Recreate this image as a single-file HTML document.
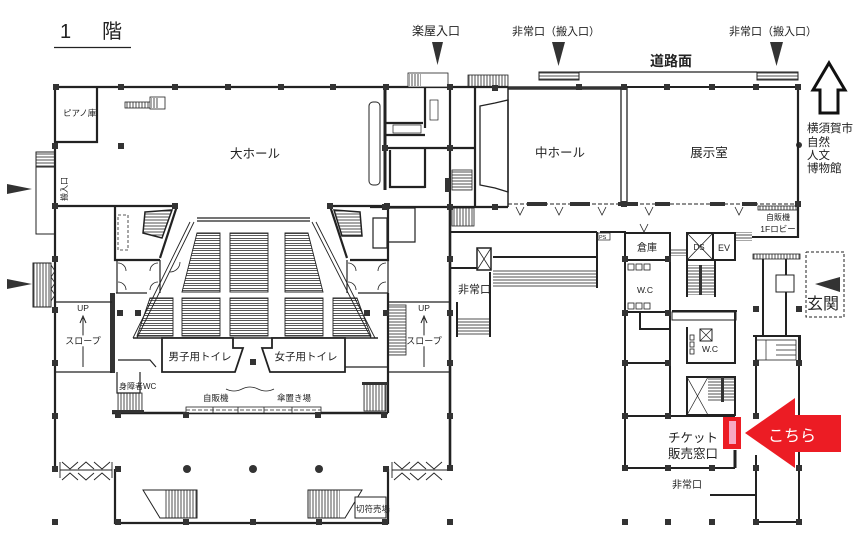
<!DOCTYPE html>
<html><head><meta charset="utf-8">
<style>
html,body{margin:0;padding:0;background:#fff}
svg{display:block}
text{font-family:"Liberation Sans","Noto Sans CJK JP",sans-serif;fill:#222}
</style></head>
<body>
<svg width="853" height="549" viewBox="0 0 853 549" xmlns="http://www.w3.org/2000/svg">
<defs>
<pattern id="rows" width="8" height="5" patternUnits="userSpaceOnUse"><path d="M0,0.5H8M0,3.5H8" stroke="#222" stroke-width="0.75"/></pattern>
<pattern id="hl" width="8" height="3" patternUnits="userSpaceOnUse"><path d="M0,1H8" stroke="#222" stroke-width="0.8"/></pattern>
<pattern id="vl" width="3" height="8" patternUnits="userSpaceOnUse"><path d="M1,0V8" stroke="#222" stroke-width="0.8"/></pattern>
<rect id="c" x="-3" y="-3" width="6" height="6" fill="#333"/>
</defs>
<rect width="853" height="549" fill="#fff"/>

<!-- Title -->
<text x="60" y="38" font-size="20">1</text>
<text x="102" y="38" font-size="20">階</text>
<line x1="54" y1="47.5" x2="131" y2="47.5" stroke="#222" stroke-width="1.3"/>

<!-- top labels -->
<text x="436" y="35" font-size="12" text-anchor="middle">楽屋入口</text>
<text x="556" y="35" font-size="11" text-anchor="middle">非常口（搬入口）</text>
<text x="773" y="35" font-size="11" text-anchor="middle">非常口（搬入口）</text>
<polygon points="432,42 443,42 437.5,65" fill="#333"/>
<polygon points="552,42 565,42 558.5,66" fill="#333"/>
<polygon points="770,42 783,42 776.5,66" fill="#333"/>
<text x="671" y="66" font-size="14" font-weight="bold" text-anchor="middle">道路面</text>

<!-- road -->
<line x1="579" y1="72" x2="757" y2="72" stroke="#222" stroke-width="1.2"/>
<rect x="539" y="72" width="40" height="8" fill="url(#hl)" stroke="#222" stroke-width="1"/>
<rect x="757" y="72" width="41" height="8" fill="url(#hl)" stroke="#222" stroke-width="1"/>

<!-- up arrow -->
<polygon points="829,63 845,90 838,90 838,113 820,113 820,90 813,90" fill="#fff" stroke="#111" stroke-width="3" stroke-linejoin="miter"/>

<!-- museum text -->
<text x="807" y="132" font-size="11.5">横須賀市</text>
<text x="807" y="146" font-size="11.5">自然</text>
<text x="807" y="159" font-size="11.5">人文</text>
<text x="807" y="172" font-size="11.5">博物館</text>
<circle cx="799" cy="145" r="3" fill="#333"/>

<!-- left entrance arrows -->
<polygon points="7,184 7,194 32,189" fill="#333"/>
<polygon points="7,279 7,289 32,284" fill="#333"/>
<rect x="36" y="152" width="19" height="82" fill="#fff" stroke="#222" stroke-width="1"/>
<rect x="36" y="152" width="19" height="15" fill="url(#hl)" stroke="#222" stroke-width="1"/>
<text transform="translate(67,189) rotate(-90)" font-size="8" text-anchor="middle">搬入口</text>
<rect x="33" y="263" width="18" height="44" fill="url(#vl)" stroke="#222" stroke-width="1"/>
<path d="M51,265 l4,6 l-4,6 l4,6 l-4,6 l4,6 l-4,6" fill="none" stroke="#222" stroke-width="0.8"/>

<!-- main walls -->
<g fill="none" stroke="#222" stroke-width="2.2">
<path d="M55,87H386H508"/>
<path d="M55,87V470"/>
<path d="M97,87V142H55"/>
<path d="M55,206H177"/>
<path d="M115,206V260H160"/>
<path d="M177,206L160,258"/>
<path d="M330,206H388V260H350"/>
<path d="M330,206L347,258"/>
<path d="M798,87V238"/>
<path d="M385,87V190" stroke-width="3"/>
<path d="M385,148H475"/>
<path d="M385,123H423M385,135H425"/>
<path d="M425,87V128M425,148V188M390,150V187H425"/>
<path d="M450,87V207"/>
<path d="M475,87V207"/>
<path d="M370,207H508"/>
<path d="M450,207V468" stroke-width="2.6"/>
<path d="M112,413H388" stroke-width="2.6"/>
<path d="M388,293V413"/>
<path d="M115,469V523H388V469"/>
</g>
<rect x="110" y="293" width="5" height="80" fill="#333"/>
<g fill="none" stroke="#222" stroke-width="1.2">
<path d="M116,293H147M358,293H388"/>
<path d="M118,360H150L156,367M345,367H388"/>
<path d="M117,372V393H140V372"/>
<path d="M56,302H112M56,372H112"/>
<path d="M388,302H450M388,372H450"/>
<path d="M117,260V293M160,260V293M347,260V293M388,260V293"/>
<path d="M388,208H415V242H388M373,218H387V248H373Z"/>
</g>

<!-- piano/other text -->
<text x="63" y="116" font-size="8.5">ピアノ庫</text>
<rect x="125" y="102" width="26" height="6" fill="url(#vl)" stroke="#222" stroke-width="0.8"/>
<rect x="150" y="97" width="15" height="12" fill="#fff" stroke="#222" stroke-width="0.8"/>
<rect x="151" y="98" width="7" height="10" fill="url(#vl)"/>
<text x="255" y="158" font-size="12.5" text-anchor="middle">大ホール</text>

<!-- stage rounded rect -->
<rect x="369" y="102" width="11" height="83" rx="4" fill="#fff" stroke="#222" stroke-width="1"/>

<!-- left room stairs -->
<polygon points="145,212 172,210 162,238 143,233" fill="url(#hl)" stroke="#222" stroke-width="1.5"/>
<rect x="118" y="215" width="10" height="35" fill="none" stroke="#222" stroke-width="0.8" stroke-dasharray="3,2"/>
<polygon points="334,210 360,212 362,236 342,236" fill="url(#hl)" stroke="#222" stroke-width="1.5"/>
<path d="M180,262 a10,10 0 0 1 -10,10 M118,263 a8,8 0 0 1 8,8 M118,282 a8,8 0 0 1 8,8 M158,263 a8,8 0 0 0 -8,8 M158,282 a8,8 0 0 0 -8,8 M348,263 a8,8 0 0 1 8,8 M348,282 a8,8 0 0 1 8,8 M386,263 a8,8 0 0 0 -8,8 M386,282 a8,8 0 0 0 -8,8" fill="none" stroke="#222" stroke-width="0.8"/>

<!-- seating -->
<g stroke="#222" stroke-width="0.9">
<path d="M197,218H310M197,221H310" fill="none" stroke-width="1.3"/>
<path d="M190,222L133,338M194,222L137,338M316,222L375,338M312,222L371,338" fill="none"/>
<polygon points="197,233 220,233 220,292 182,292" fill="url(#rows)"/>
<rect x="230" y="233" width="38" height="59" fill="url(#rows)"/>
<polygon points="285,233 308,233 323,292 285,292" fill="url(#rows)"/>
<polygon points="150,298 173,298 173,336 137,336" fill="url(#rows)"/>
<rect x="182" y="298" width="38" height="38" fill="url(#rows)"/>
<rect x="230" y="298" width="38" height="38" fill="url(#rows)"/>
<rect x="285" y="298" width="38" height="38" fill="url(#rows)"/>
<polygon points="333,298 357,298 371,336 333,336" fill="url(#rows)"/>
<path d="M133,338H378" fill="none" stroke-width="1.5"/>
</g>

<!-- toilets -->
<polygon points="162,338 233,338 233,348 243,348 235,372 162,372" fill="#fff" stroke="#222" stroke-width="1.8"/>
<polygon points="272,338 345,338 345,372 270,372 262,348 272,348" fill="#fff" stroke="#222" stroke-width="1.8"/>
<text x="200" y="360" font-size="10.5" text-anchor="middle">男子用トイレ</text>
<text x="306" y="360" font-size="10.5" text-anchor="middle">女子用トイレ</text>
<use href="#c" x="253" y="362"/>

<!-- lobby -->
<text x="119" y="389" font-size="8">身障者WC</text>
<rect x="118" y="393" width="24" height="18" fill="url(#vl)" stroke="#222" stroke-width="0.8"/>
<rect x="112" y="410" width="32" height="3" fill="#333"/>
<rect x="364" y="383" width="22" height="28" fill="url(#vl)" stroke="#222" stroke-width="0.8"/>
<rect x="362" y="382" width="26" height="3" fill="#333"/>
<path d="M226,389 q8,4 16,0 t16,0 t16,0" fill="none" stroke="#222" stroke-width="0.8"/>
<text x="203" y="401" font-size="8.5">自販機</text>
<text x="277" y="401" font-size="8.5">傘置き場</text>
<rect x="186" y="407" width="135" height="6" fill="#fff" stroke="#222" stroke-width="0.8"/>
<path d="M186,410H321" stroke="#222" stroke-width="0.8" stroke-dasharray="4,2"/>
<path d="M213,407V413M238,407V413M264,407V413M292,407V413" stroke="#222" stroke-width="0.8"/>

<!-- slopes -->
<text x="83" y="311" font-size="8.5" text-anchor="middle">UP</text>
<path d="M83,367V318M80,323L83,316L86,323" fill="none" stroke="#222" stroke-width="1"/>
<text x="83" y="344" font-size="9" text-anchor="middle" fill="#fff" stroke="#fff" stroke-width="4">スロープ</text>
<text x="83" y="344" font-size="9" text-anchor="middle">スロープ</text>
<text x="424" y="311" font-size="8.5" text-anchor="middle">UP</text>
<path d="M424,367V318M421,323L424,316L427,323" fill="none" stroke="#222" stroke-width="1"/>
<text x="424" y="344" font-size="9" text-anchor="middle" fill="#fff" stroke="#fff" stroke-width="4">スロープ</text>
<text x="424" y="344" font-size="9" text-anchor="middle">スロープ</text>
<rect x="388" y="305" width="18" height="50" fill="url(#hl)" stroke="#222" stroke-width="0.8"/>

<!-- lower area doors -->
<g fill="none" stroke="#222" stroke-width="0.9">
<path d="M60,470H112M60,478V462M112,478V462"/>
<path d="M62,462L70,469L78,462M78,469L86,462L94,469M94,462L102,469L110,462"/>
<path d="M62,480L70,473L78,480M78,473L86,480L94,473M94,480L102,473L110,480"/>
<path d="M392,470H448M392,478V462"/>
<path d="M394,462L402,469L410,462M410,469L418,462L426,469M426,462L434,469L442,462"/>
<path d="M394,480L402,473L410,480M410,473L418,480L426,473M426,480L434,473L442,480"/>
</g>
<circle cx="187" cy="469" r="4" fill="#333"/>
<circle cx="253" cy="469" r="4" fill="#333"/>
<circle cx="319" cy="469" r="4" fill="#333"/>
<polygon points="143,490 197,490 197,518 160,518" fill="#fff" stroke="#222" stroke-width="1"/>
<rect x="165" y="490" width="32" height="28" fill="url(#vl)"/>
<polygon points="308,490 362,490 345,518 308,518" fill="#fff" stroke="#222" stroke-width="1"/>
<rect x="308" y="490" width="32" height="28" fill="url(#vl)"/>
<rect x="355" y="497" width="31" height="21" fill="#fff" stroke="#222" stroke-width="1"/>
<text x="356" y="512" font-size="8.5">切符売場</text>

<!-- backstage details -->
<rect x="408" y="73" width="40" height="14" fill="#fff" stroke="#222" stroke-width="0.8"/>
<rect x="409" y="74" width="12" height="12" fill="url(#vl)"/>
<rect x="468" y="75" width="40" height="12" fill="url(#vl)" stroke="#222" stroke-width="0.8"/>
<polygon points="480,106 495,103 508,100 508,192 495,188 480,185" fill="#fff" stroke="#222" stroke-width="1.3"/>
<rect x="452" y="170" width="20" height="20" fill="url(#hl)" stroke="#222" stroke-width="0.8"/>
<rect x="452" y="208" width="22" height="18" fill="url(#vl)" stroke="#222" stroke-width="0.8"/>
<rect x="445" y="178" width="5" height="14" fill="#333"/>
<rect x="393" y="125" width="28" height="8" fill="none" stroke="#222" stroke-width="0.7"/>
<rect x="430" y="100" width="8" height="20" fill="none" stroke="#222" stroke-width="0.7"/>

<!-- middle hall / exhibition -->
<path d="M508,88H624" stroke="#333" stroke-width="3.5"/>
<path d="M624,87H798" stroke="#222" stroke-width="2"/>
<path d="M621,87V204M627,87V204" stroke="#222" stroke-width="1.3"/>
<path d="M508,87V207" stroke="#222" stroke-width="1.5"/>
<path d="M508,204H798" stroke="#222" stroke-width="1" stroke-dasharray="4,2"/>
<g fill="#333">
<rect x="527" y="202" width="20" height="4"/>
<rect x="570" y="202" width="20" height="4"/>
<rect x="618" y="202" width="20" height="4"/>
<rect x="655" y="202" width="15" height="4"/>
<rect x="710" y="202" width="15" height="4"/>
<rect x="742" y="202" width="15" height="4"/>
</g>
<text x="560" y="157" font-size="12.5" text-anchor="middle">中ホール</text>
<text x="709" y="157" font-size="12.5" text-anchor="middle">展示室</text>
<path d="M516,207l4,8l4,-8M555,207l4,8l4,-8M598,207l4,8l4,-8M645,207l4,8l4,-8M735,207l4,8l4,-8M640,224l4,8l4,-8" fill="none" stroke="#222" stroke-width="0.8"/>

<!-- 1F lobby -->
<rect x="758" y="206" width="40" height="4" fill="url(#vl)" stroke="#222" stroke-width="0.8"/>
<text x="778" y="220" font-size="8" text-anchor="middle">自販機</text>
<text x="778" y="232" font-size="8.5" text-anchor="middle">1Fロビー</text>

<!-- corridor & right block -->
<g fill="none" stroke="#222" stroke-width="2">
<path d="M450,232H597"/>
<path d="M597,232V288"/>
<path d="M493,257H597"/>
<path d="M450,268H478"/>
<path d="M457,302V337M490,272V337"/>
<path d="M600,232H625V469"/>
<path d="M625,233H670V260H625"/>
<path d="M670,232V416"/>
<path d="M687,233H735V260H687Z"/>
<path d="M713,233V260"/>
<path d="M687,260V297M715,260V297"/>
<path d="M625,312H670"/>
<path d="M672,311H737"/>
<path d="M687,327V363H735V311"/>
<path d="M625,363H670"/>
<path d="M625,416H735"/>
<path d="M735,377V416"/>
<path d="M687,377H735V415H687Z"/>
<path d="M625,468H735"/>
<path d="M735,450V468" stroke-width="3"/>
<path d="M752,237H798"/>
<path d="M763,259V336M786,259V336"/>
<path d="M753,336H800V363"/>
<path d="M756,336V416M756,455V522H799V336"/>
<path d="M710,495H756"/>
<path d="M640,312V329H670"/>
</g>
<rect x="477" y="248" width="14" height="22" fill="#fff" stroke="#222" stroke-width="1.5"/>
<path d="M477,248L491,270M491,248L477,270" stroke="#222" stroke-width="0.8"/>
<rect x="493" y="270" width="104" height="17" fill="url(#hl)"/>
<rect x="457" y="318" width="33" height="17" fill="url(#hl)"/>
<text x="458" y="293" font-size="11">非常口</text>
<rect x="598" y="233" width="12" height="7" fill="#fff" stroke="#222" stroke-width="0.7"/>
<text x="599" y="239" font-size="5.5">PS</text>
<text x="647" y="251" font-size="10" text-anchor="middle">倉庫</text>
<rect x="670" y="248" width="17" height="8" fill="url(#hl)"/>
<path d="M687,233L713,260M713,233L687,260" stroke="#222" stroke-width="0.8"/>
<text x="699" y="250" font-size="8" text-anchor="middle">DS</text>
<text x="724" y="251" font-size="9" text-anchor="middle">EV</text>
<rect x="736" y="232" width="16" height="9" fill="url(#hl)"/>
<rect x="687" y="265" width="28" height="30" fill="url(#hl)"/>
<rect x="699" y="265" width="3" height="30" fill="#333"/>
<rect x="672" y="312" width="64" height="8" fill="none" stroke="#222" stroke-width="1"/>
<rect x="700" y="329" width="12" height="12" fill="#fff" stroke="#222" stroke-width="1"/>
<path d="M700,329L712,341M712,329L700,341" stroke="#222" stroke-width="0.7"/>
<text x="645" y="293" font-size="8.5" text-anchor="middle">W.C</text>
<text x="710" y="352" font-size="8.5" text-anchor="middle">W.C</text>
<g fill="none" stroke="#222" stroke-width="0.8">
<rect x="628" y="264" width="6" height="6"/><rect x="636" y="264" width="6" height="6"/><rect x="644" y="264" width="6" height="6"/>
<rect x="628" y="303" width="6" height="6"/><rect x="636" y="303" width="6" height="6"/><rect x="644" y="303" width="6" height="6"/>
<rect x="690" y="335" width="4" height="5"/><rect x="690" y="342" width="4" height="5"/><rect x="690" y="349" width="4" height="5"/>
</g>
<path d="M687,377L708,415M708,377L687,415" stroke="#222" stroke-width="0.7"/>
<rect x="708" y="377" width="27" height="25" fill="url(#hl)"/>
<rect x="721" y="377" width="3" height="25" fill="#333"/>
<rect x="753" y="254" width="47" height="5" fill="url(#vl)" stroke="#222" stroke-width="0.8"/>
<rect x="776" y="275" width="18" height="17" fill="#fff" stroke="#222" stroke-width="1"/>
<rect x="756" y="340" width="40" height="20" fill="none" stroke="#222" stroke-width="0.8"/>
<path d="M766,340V360M776,345H796M776,350H796M776,355H796" stroke="#222" stroke-width="0.7"/>

<!-- 玄関 -->
<path d="M806,252H844V317H806V252" fill="none" stroke="#222" stroke-width="1" stroke-dasharray="3,2"/>
<polygon points="815,284 840,277 840,292" fill="#333"/>
<text x="807" y="309" font-size="16">玄関</text>

<!-- ticket -->
<text x="668" y="442" font-size="12.5" fill="#333">チケット</text>
<text x="668" y="458" font-size="12.5" fill="#333">販売窓口</text>
<text x="672" y="488" font-size="10">非常口</text>
<rect x="723" y="417" width="18" height="32" fill="#ec1c24"/>
<rect x="729" y="421" width="7" height="23" fill="#f7a8c2"/>

<!-- red arrow -->
<polygon points="745,433 795,398 795,415 841,415 841,452 795,452 795,468" fill="#ec1c24"/>
<text x="792" y="441" font-size="16" text-anchor="middle" style="fill:#fff">こちら</text>

<!-- columns -->
<g>
<use href="#c" x="56" y="87"/><use href="#c" x="121" y="87"/><use href="#c" x="175" y="87"/><use href="#c" x="228" y="87"/><use href="#c" x="281" y="87"/><use href="#c" x="333" y="87"/><use href="#c" x="386" y="87"/>
<use href="#c" x="450" y="87"/><use href="#c" x="495" y="88"/><use href="#c" x="579" y="87"/><use href="#c" x="624" y="87"/><use href="#c" x="667" y="87"/><use href="#c" x="712" y="87"/><use href="#c" x="756" y="87"/><use href="#c" x="798" y="87"/>
<use href="#c" x="121" y="146"/><use href="#c" x="55" y="146"/><use href="#c" x="55" y="206"/><use href="#c" x="55" y="259"/><use href="#c" x="55" y="310"/><use href="#c" x="55" y="363"/><use href="#c" x="55" y="416"/><use href="#c" x="55" y="469"/><use href="#c" x="55" y="522"/>
<use href="#c" x="385" y="148"/><use href="#c" x="450" y="148"/><use href="#c" x="385" y="207"/><use href="#c" x="450" y="207"/><use href="#c" x="495" y="207"/><use href="#c" x="624" y="204"/><use href="#c" x="798" y="204"/>
<use href="#c" x="175" y="206"/><use href="#c" x="330" y="206"/><use href="#c" x="387" y="206"/>
<use href="#c" x="120" y="313"/><use href="#c" x="138" y="313"/><use href="#c" x="367" y="313"/><use href="#c" x="386" y="313"/>
<use href="#c" x="118" y="415"/><use href="#c" x="186" y="415"/><use href="#c" x="318" y="415"/><use href="#c" x="384" y="415"/>
<use href="#c" x="118" y="469"/><use href="#c" x="386" y="469"/>
<use href="#c" x="118" y="522"/><use href="#c" x="186" y="522"/><use href="#c" x="253" y="522"/><use href="#c" x="319" y="522"/><use href="#c" x="385" y="522"/>
<use href="#c" x="450" y="259"/><use href="#c" x="450" y="313"/><use href="#c" x="450" y="363"/><use href="#c" x="450" y="416"/><use href="#c" x="450" y="468"/><use href="#c" x="450" y="522"/>
<use href="#c" x="625" y="259"/><use href="#c" x="668" y="259"/><use href="#c" x="625" y="313"/><use href="#c" x="668" y="313"/>
<use href="#c" x="625" y="363"/><use href="#c" x="668" y="363"/><use href="#c" x="756" y="363"/><use href="#c" x="799" y="363"/>
<use href="#c" x="625" y="416"/><use href="#c" x="668" y="416"/><use href="#c" x="756" y="416"/>
<use href="#c" x="625" y="468"/><use href="#c" x="668" y="468"/><use href="#c" x="712" y="468"/><use href="#c" x="756" y="468"/><use href="#c" x="799" y="468"/>
<use href="#c" x="625" y="522"/><use href="#c" x="668" y="522"/><use href="#c" x="712" y="522"/><use href="#c" x="756" y="522"/><use href="#c" x="799" y="522"/>
<use href="#c" x="756" y="309"/><use href="#c" x="799" y="309"/>
</g>
</svg>
</body></html>
